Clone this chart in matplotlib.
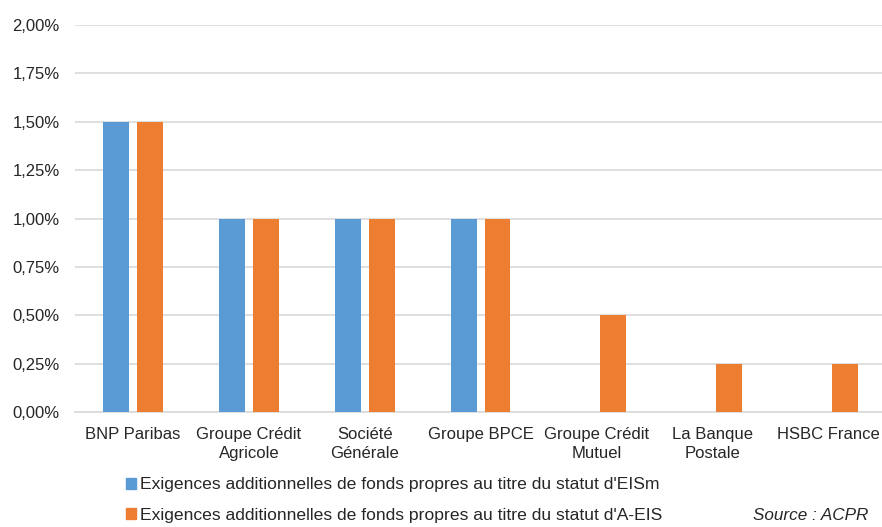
#!/usr/bin/env python3
"""Exigences additionnelles de fonds propres EISm / A-EIS"""
import numpy as np
import matplotlib
matplotlib.use('agg')
import matplotlib.pyplot as plt
from matplotlib.ticker import FuncFormatter
from matplotlib.patches import Patch

banks = ['BNP Paribas', 'Groupe Crédit\nAgricole', 'Société\nGénérale', 'Groupe BPCE',
         'Groupe Crédit\nMutuel', 'La Banque\nPostale', 'HSBC France']
eism = [1.5, 1.0, 1.0, 1.0, 0.0, 0.0, 0.0]
aeis = [1.5, 1.0, 1.0, 1.0, 0.5, 0.25, 0.25]
labels = ["Exigences additionnelles de fonds propres au titre du statut d'EISm",
          "Exigences additionnelles de fonds propres au titre du statut d'A-EIS"]
yticks = [0, 0.25, 0.5, 0.75, 1.0, 1.25, 1.5, 1.75, 2.0]

BLUE = '#5b9bd5'
ORANGE = '#ed7d31'


def main():
    plt.rcParams['font.family'] = ['Liberation Sans', 'DejaVu Sans']
    fig = plt.figure(figsize=(8.82, 5.27), dpi=100)
    ax = fig.add_axes([0.085, 0.218, 0.92, 0.7346])

    xpos = np.arange(len(banks))
    width = 0.224
    ax.bar(xpos - 0.145, eism, width, color=BLUE, zorder=3)
    ax.bar(xpos + 0.145, aeis, width, color=ORANGE, zorder=3)

    ax.set_xlim(-0.5, len(banks) - 0.5)
    ax.set_ylim(0, 2.0)
    ax.set_yticks(yticks)
    ax.yaxis.set_major_formatter(FuncFormatter(lambda v, _: '{:.2f}%'.format(v).replace('.', ',')))
    ax.set_xticks(xpos)
    ax.set_xticklabels(banks, fontsize=12, color='#262626', linespacing=1.28)
    ax.tick_params(axis='y', labelsize=12, labelcolor='#262626', length=0, pad=11)
    ax.tick_params(axis='x', length=0, pad=11)
    ax.grid(axis='y', color='#d9d9d9', linewidth=1.2, zorder=0)
    for side in ('top', 'right', 'left'):
        ax.spines[side].set_visible(False)
    ax.spines['bottom'].set_color('#d9d9d9')
    ax.spines['bottom'].set_linewidth(1.2)

    handles = [Patch(color=BLUE), Patch(color=ORANGE)]
    fig.legend(handles, labels, loc='upper left', bbox_to_anchor=(0.143, 0.094),
               frameon=False, fontsize=12.6, handlelength=0.55, handleheight=0.55,
               handletextpad=0.25, labelspacing=0.88, borderaxespad=0, borderpad=0,
               labelcolor='#262626')
    fig.text(0.984, 0.021, 'Source : ACPR', ha='right', va='center', fontsize=12.3,
             style='italic', color='#262626')

    fig.savefig('out.png', dpi=100)


if __name__ == '__main__':
    main()
